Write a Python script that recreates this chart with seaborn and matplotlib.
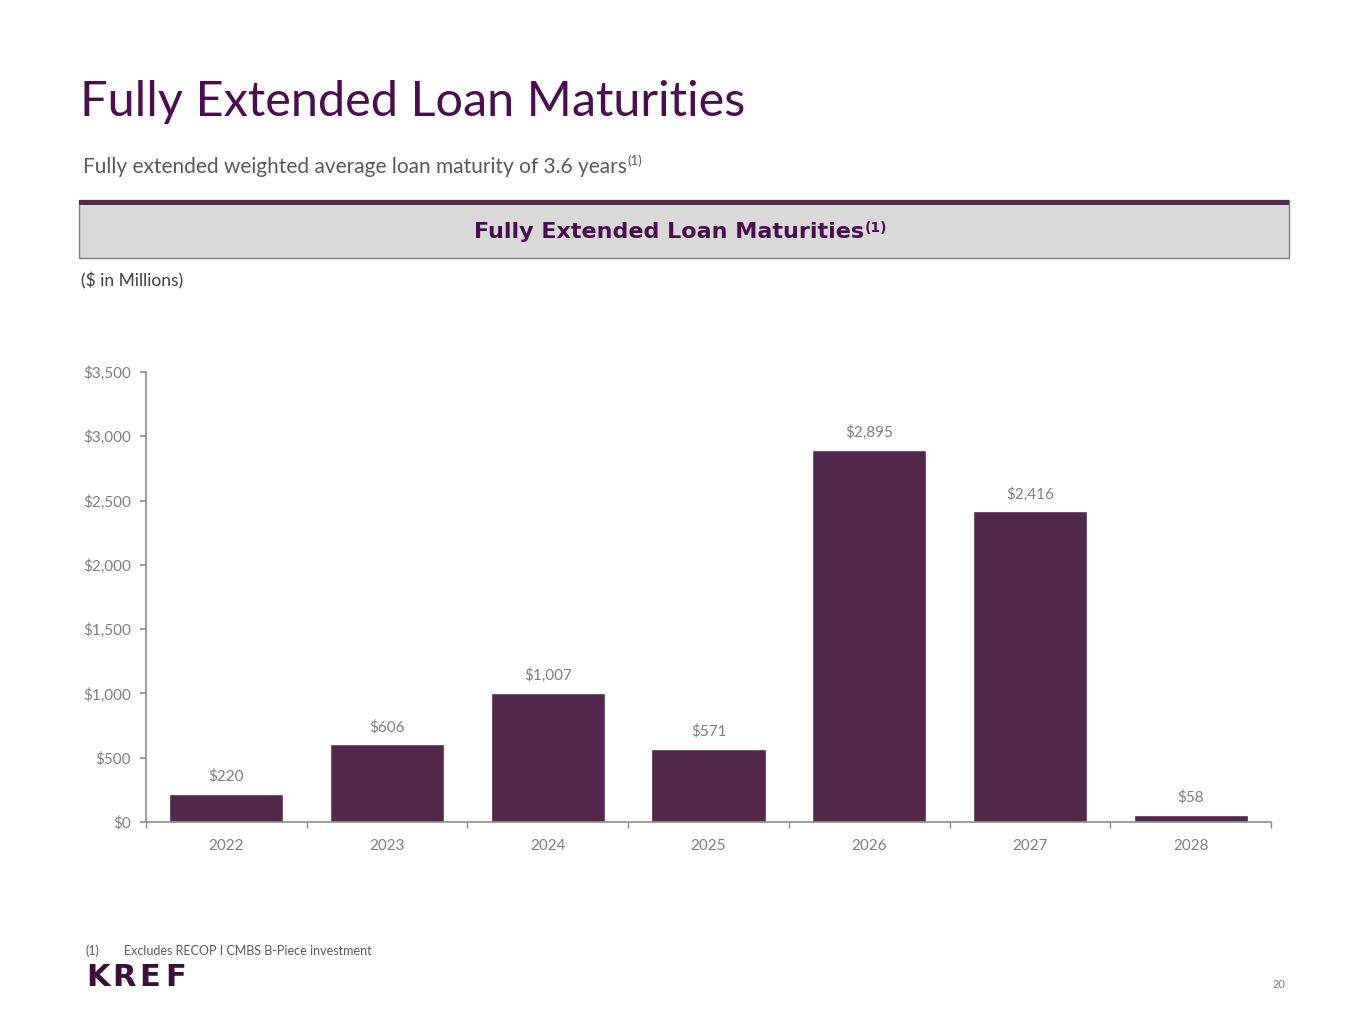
import matplotlib
matplotlib.use("Agg")
import matplotlib.pyplot as plt
import seaborn as sns
import pandas as pd
from matplotlib.patches import Rectangle

years = ["2022", "2023", "2024", "2025", "2026", "2027", "2028"]
values = [220, 606, 1007, 571, 2895, 2416, 58]
bar_labels = ["$220", "$606", "$1,007", "$571", "$2,895", "$2,416", "$58"]
yticks = [0, 500, 1000, 1500, 2000, 2500, 3000, 3500]
ytick_labels = ["$0", "$500", "$1,000", "$1,500", "$2,000", "$2,500", "$3,000", "$3,500"]

sns.set_theme(style="white")
plt.rcParams['font.family'] = ['Lato', 'DejaVu Sans']

BAR = "#52284D"
TITLE = "#4A0E4E"
GRAY = "#7F7F7F"

fig = plt.figure(figsize=(13.65, 10.24), dpi=100)
W, H = 1365, 1024
def fx(x): return x / W
def fy(y): return 1 - y / H

ax = fig.add_axes([fx(146), fy(822), fx(1271) - fx(146), fy(372) - fy(822)])
df = pd.DataFrame({"year": years, "value": values})
sns.barplot(data=df, x="year", y="value", color=BAR, width=0.71, ax=ax, saturation=1)
ax.set_xlim(-0.5, len(years) - 0.5)
ax.set_ylim(0, 3500)
ax.set_yticks(yticks)
ax.set_yticklabels(ytick_labels)
ax.set_xlabel("")
ax.set_ylabel("")
for s in ["top", "right"]:
    ax.spines[s].set_visible(False)
for s in ["left", "bottom"]:
    ax.spines[s].set_color("#8C8C8C")
    ax.spines[s].set_linewidth(1.2)
ax.tick_params(axis="y", which="major", length=4.5, color="#8C8C8C", labelsize=11, labelcolor=GRAY, pad=6.5, left=True)
ax.tick_params(axis="x", which="major", length=0, labelsize=11, labelcolor=GRAY, pad=12)
ax.set_xticks([i + 0.5 for i in range(-1, len(years))], minor=True)
ax.tick_params(axis="x", which="minor", length=4.5, color="#8C8C8C", bottom=True)
for i, (v, lab) in enumerate(zip(values, bar_labels)):
    ax.annotate(lab, (i, v), xytext=(0, 7), textcoords="offset points",
                ha="center", va="bottom", fontsize=11, color=GRAY)

fig.text(fx(80), fy(102), "Fully Extended Loan Maturities", fontsize=35, color=TITLE, va="center", ha="left")

renderer = fig.canvas.get_renderer()

def with_sup(x, y, text, size, sup_size, color, sup_dy, **kw):
    t = fig.text(fx(x), fy(y), text, fontsize=size, color=color, va="center", ha="left", **kw)
    bb = t.get_window_extent(renderer=renderer)
    fig.text(bb.x1 / W + 1 / W, fy(y - sup_dy), "(1)", fontsize=sup_size, color=color,
             va="center", ha="left", **kw)
    return t

with_sup(83, 167, "Fully extended weighted average loan maturity of 3.6 years", 15, 9.5, "#595959", 6)

fig.patches.append(Rectangle((fx(79), fy(258)), fx(1289) - fx(79), fy(200) - fy(258),
                             transform=fig.transFigure, facecolor="#D9D9D9", edgecolor="#7F7F7F", linewidth=1))
fig.patches.append(Rectangle((fx(79), fy(205)), fx(1289) - fx(79), fy(200) - fy(205),
                             transform=fig.transFigure, facecolor="#52284D", edgecolor="none"))
with_sup(474, 232, "Fully Extended Loan Maturities", 16, 10, TITLE, 4,
         fontweight="bold", family="DejaVu Sans")

fig.text(fx(81), fy(281), "($ in Millions)", fontsize=12.5, color="#404040", va="center", ha="left")

fig.text(fx(86), fy(951), "(1)", fontsize=9, color="#595959", va="center", ha="left")
fig.text(fx(124), fy(951), "Excludes RECOP I CMBS B-Piece investment", fontsize=9, color="#595959", va="center", ha="left")
for letter, lx in zip("KREF", [86, 112, 139, 165]):
    fig.text(fx(lx), fy(977), letter, fontsize=22, fontweight="bold", color="#3A1038",
             va="center", ha="left", family="DejaVu Sans")
fig.text(fx(1285), fy(985), "20", fontsize=8, color=GRAY, va="center", ha="right")

fig.savefig("out.png", dpi=100, facecolor="white")
